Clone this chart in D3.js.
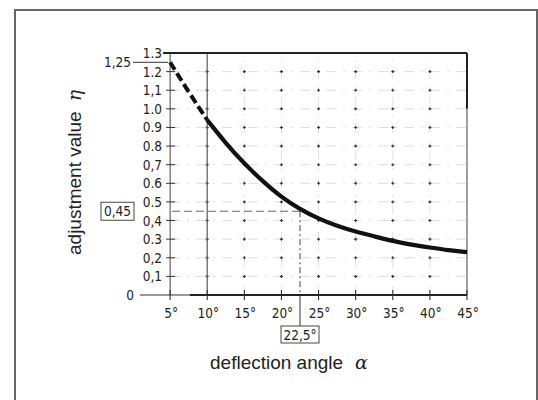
<!DOCTYPE html>
<html>
<head>
<meta charset="utf-8">
<script src="https://cdn.jsdelivr.net/npm/d3@7"></script>
<style>
  html, body { margin: 0; padding: 0; background: #fff; }
  svg { display: block; }
  .tick-label { font-family: "DejaVu Sans Condensed", "DejaVu Sans", sans-serif; font-size: 13.5px; fill: #222; }
  .title { font-family: "Liberation Sans", Arial, sans-serif; font-size: 19px; fill: #222; }
</style>
</head>
<body>
<svg id="chart" width="538" height="400"></svg>
<script>
// curve: deflection angle (deg) -> adjustment value
const angles = [5, 7.5, 10, 12.5, 15, 17.5, 20, 22.5, 25, 27.5, 30, 32.5, 35, 37.5, 40, 42.5, 45];
const eta    = [1.25, 1.09, 0.94, 0.815, 0.705, 0.61, 0.525, 0.46, 0.41, 0.37, 0.34, 0.315, 0.29, 0.27, 0.255, 0.24, 0.23];

const yTicks = [0, 0.1, 0.2, 0.3, 0.4, 0.5, 0.6, 0.7, 0.8, 0.9, 1.0, 1.1, 1.2, 1.3];
const yTickLabels = ["0", "0,1", "0,2", "0.3", "0,4", "0.5", "0.6", "0,7", "0.8", "0.9", "1.0", "1,1", "1.2", "1.3"];
const xTicks = [5, 10, 15, 20, 25, 30, 35, 40, 45];
const xTickLabels = ["5°", "10°", "15°", "20°", "25°", "30°", "35°", "40°", "45°"];

// reference markers
const markAngle = 22.5, markAngleLabel = "22,5°";
const markEta = 0.45, markEtaLabel = "0,45";
const startEta = 1.25, startEtaLabel = "1,25";
const dashedUntil = 10; // curve is dashed below this angle

const svg = d3.select("#chart");

// outer frame (open at the bottom)
svg.append("path")
  .attr("d", "M15,400 L15,10 L537,10 L537,400")
  .attr("fill", "none").attr("stroke", "#666").attr("stroke-width", 2);

const x = d3.scaleLinear().domain([0, 45]).range([133, 467]);
const y = d3.scaleLinear().domain([0, 1.3]).range([295, 53]);

const g = svg.append("g");

// faint dash-dot grid
g.selectAll(".hgrid")
  .data(yTicks.filter(d => d > 0 && d < 1.3))
  .enter().append("line")
  .attr("x1", x(5)).attr("x2", x(45))
  .attr("y1", d => y(d)).attr("y2", d => y(d))
  .attr("stroke", "#888").attr("stroke-width", 0.8).attr("opacity", 0.35)
  .attr("stroke-dasharray", "10,7,2,7");

g.selectAll(".vgrid")
  .data(xTicks.filter(d => d > 5 && d < 45 && d !== 10))
  .enter().append("line")
  .attr("x1", d => x(d)).attr("x2", d => x(d))
  .attr("y1", y(0)).attr("y2", y(1.3))
  .attr("stroke", "#888").attr("stroke-width", 0.8).attr("opacity", 0.3)
  .attr("stroke-dasharray", "9,8,2,8");

// small crosses at the grid intersections
const crosses = [];
xTicks.filter(d => d > 5 && d < 45).forEach(a => {
  yTicks.filter(v => v > 0 && v < 1.3).forEach(v => crosses.push([a, v]));
});
g.selectAll(".cross")
  .data(crosses)
  .enter().append("path")
  .attr("d", d => `M${x(d[0]) - 1.5},${y(d[1])}h3M${x(d[0])},${y(d[1]) - 1.5}v3`)
  .attr("stroke", "#333").attr("stroke-width", 1.1);

// vertical at 10 deg
g.append("line")
  .attr("x1", x(10)).attr("x2", x(10))
  .attr("y1", y(0)).attr("y2", y(1.3))
  .attr("stroke", "#666").attr("stroke-width", 1.3);

// y axis line at 5 deg with cross ticks
g.append("line")
  .attr("x1", x(5)).attr("x2", x(5))
  .attr("y1", y(0)).attr("y2", y(1.3))
  .attr("stroke", "#444").attr("stroke-width", 1);

g.selectAll(".ytick")
  .data(yTicks.filter(d => d > 0 && d < 1.3))
  .enter().append("line")
  .attr("x1", x(5) - 4).attr("x2", x(5) + 5)
  .attr("y1", d => y(d)).attr("y2", d => y(d))
  .attr("stroke", "#333").attr("stroke-width", 1);

g.selectAll(".ylabel")
  .data(yTicks)
  .enter().append("text")
  .attr("class", "tick-label")
  .attr("x", d => d === 0 ? 134 : 162)
  .attr("y", d => y(d) + 5)
  .attr("text-anchor", "end")
  .text((d, i) => yTickLabels[i]);

// top edge (1.3) and right edge (45 deg)
g.append("line")
  .attr("x1", x(5) - 7).attr("x2", x(45))
  .attr("y1", y(1.3)).attr("y2", y(1.3))
  .attr("stroke", "#222").attr("stroke-width", 2);
g.append("line")
  .attr("x1", x(45)).attr("x2", x(45))
  .attr("y1", y(1.0)).attr("y2", y(0))
  .attr("stroke", "#888").attr("stroke-width", 1.6);
g.append("line")
  .attr("x1", x(45)).attr("x2", x(45))
  .attr("y1", y(1.3)).attr("y2", y(1.0))
  .attr("stroke", "#222").attr("stroke-width", 2);

// baseline
g.append("line")
  .attr("x1", 140).attr("x2", x(45))
  .attr("y1", y(0)).attr("y2", y(0))
  .attr("stroke", "#333").attr("stroke-width", 1.2);
g.append("line")
  .attr("x1", 190).attr("x2", x(45))
  .attr("y1", y(0)).attr("y2", y(0))
  .attr("stroke", "#222").attr("stroke-width", 2.2);

g.selectAll(".xtick")
  .data(xTicks)
  .enter().append("line")
  .attr("x1", d => x(d)).attr("x2", d => x(d))
  .attr("y1", y(0) - 5).attr("y2", y(0) + 5)
  .attr("stroke", "#333").attr("stroke-width", 1.1);

g.selectAll(".xlabel")
  .data(xTicks)
  .enter().append("text")
  .attr("class", "tick-label")
  .attr("x", d => x(d) + 1)
  .attr("y", 318)
  .attr("text-anchor", "middle")
  .text((d, i) => xTickLabels[i]);

// 1,25 leader
g.append("line")
  .attr("x1", 133).attr("x2", x(5) - 2)
  .attr("y1", y(startEta)).attr("y2", y(startEta))
  .attr("stroke", "#333").attr("stroke-width", 1);
g.append("text")
  .attr("class", "tick-label")
  .attr("x", 131).attr("y", y(startEta) + 5)
  .attr("text-anchor", "end")
  .text(startEtaLabel);

// 0,45 / 22,5 reference lines
g.append("line")
  .attr("x1", x(5) + 2).attr("x2", x(markAngle))
  .attr("y1", y(markEta)).attr("y2", y(markEta))
  .attr("stroke", "#666").attr("stroke-width", 1.2)
  .attr("stroke-dasharray", "8,4");
g.append("line")
  .attr("x1", x(markAngle)).attr("x2", x(markAngle))
  .attr("y1", y(markEta)).attr("y2", y(0))
  .attr("stroke", "#444").attr("stroke-width", 1)
  .attr("stroke-dasharray", "6,3,2,3");
g.append("line")
  .attr("x1", x(markAngle)).attr("x2", x(markAngle))
  .attr("y1", y(0)).attr("y2", 326)
  .attr("stroke", "#333").attr("stroke-width", 1);

// boxed labels
const etaBox = g.append("g");
etaBox.append("rect")
  .attr("x", 101).attr("y", y(markEta) - 9).attr("width", 33).attr("height", 18)
  .attr("fill", "none").attr("stroke", "#333").attr("stroke-width", 0.9);
etaBox.append("text")
  .attr("class", "tick-label")
  .attr("x", 117.5).attr("y", y(markEta) + 5)
  .attr("text-anchor", "middle")
  .text(markEtaLabel);

const angBox = g.append("g");
angBox.append("rect")
  .attr("x", x(markAngle) - 19).attr("y", 326).attr("width", 38).attr("height", 17)
  .attr("fill", "none").attr("stroke", "#333").attr("stroke-width", 0.9);
angBox.append("text")
  .attr("class", "tick-label")
  .attr("x", x(markAngle)).attr("y", 339.5)
  .attr("text-anchor", "middle")
  .text(markAngleLabel);

// the curve
const pts = angles.map((a, i) => [a, eta[i]]);
const line = d3.line()
  .x(d => x(d[0])).y(d => y(d[1]))
  .curve(d3.curveBasis);

g.append("path")
  .datum(pts.filter(d => d[0] <= dashedUntil))
  .attr("d", line)
  .attr("fill", "none").attr("stroke", "#111").attr("stroke-width", 4)
  .attr("stroke-dasharray", "9,4");
g.append("path")
  .datum(pts.filter(d => d[0] >= dashedUntil))
  .attr("d", line)
  .attr("fill", "none").attr("stroke", "#111").attr("stroke-width", 4.2);

// axis titles
const xt = svg.append("text").attr("class", "title")
  .attr("x", 210).attr("y", 369);
xt.append("tspan").text("deflection angle");
xt.append("tspan").attr("dx", 12).attr("font-style", "italic")
  .attr("font-family", "DejaVu Serif, serif").text("α");

const yt = svg.append("text").attr("class", "title")
  .attr("transform", "translate(81,255) rotate(-90)");
yt.append("tspan").text("adjustment value");
yt.append("tspan").attr("dx", 10).attr("font-style", "italic")
  .attr("font-family", "DejaVu Serif, serif").text("η");
</script>
</body>
</html>
